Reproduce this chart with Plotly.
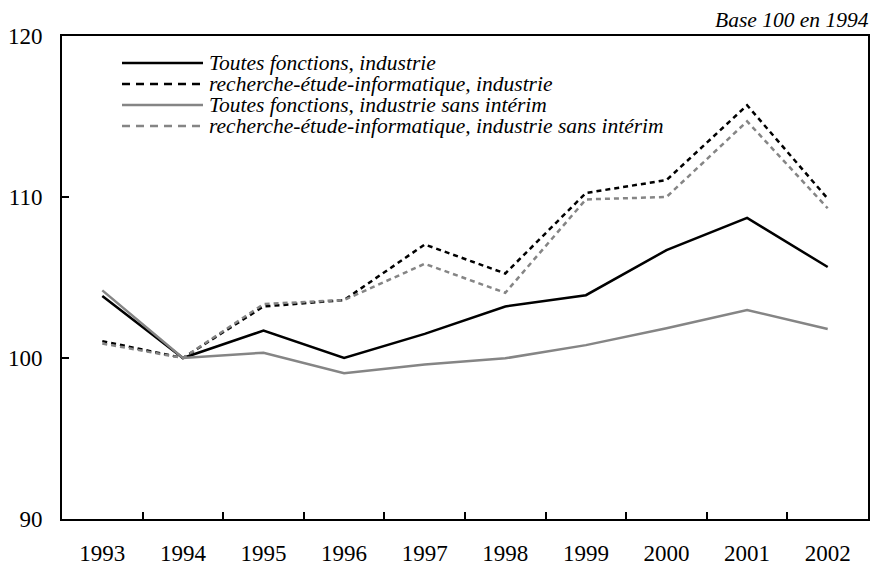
import plotly.graph_objects as go

years = ["1993", "1994", "1995", "1996", "1997", "1998", "1999", "2000", "2001", "2002"]
toutes_ind = [103.85, 100.0, 101.7, 100.0, 101.5, 103.2, 103.9, 106.7, 108.7, 105.65]
rei_ind = [101.05, 100.0, 103.2, 103.6, 107.05, 105.25, 110.25, 111.05, 115.7, 109.9]
toutes_ss = [104.2, 100.0, 100.33, 99.05, 99.6, 99.98, 100.8, 101.85, 102.98, 101.8]
rei_ss = [100.9, 100.0, 103.35, 103.6, 105.85, 104.05, 109.85, 110.0, 114.7, 109.3]

names = [
    "Toutes fonctions, industrie",
    "recherche-étude-informatique, industrie",
    "Toutes fonctions, industrie sans intérim",
    "recherche-étude-informatique, industrie sans intérim",
]
series = [toutes_ind, rei_ind, toutes_ss, rei_ss]
colors = ["#000000", "#000000", "#858585", "#858585"]
dashes = ["solid", "5px,4px", "solid", "5px,4px"]
legend_dashes = ["solid", "8px,6px", "solid", "8px,6px"]

FONT = "Liberation Serif"

fig = go.Figure()
for name, vals, c, d in zip(names, series, colors, dashes):
    fig.add_trace(go.Scatter(x=years, y=vals, mode="lines", name=name,
                             line=dict(color=c, width=2.5, dash=d),
                             showlegend=False))

# manual legend (longer line samples, as in the reference)
W, H = 806, 483
x0 = (122 - 62) / W
x1 = (203 - 62) / W
xt = (207 - 62) / W
rows = [63, 84, 105, 126]
for name, c, d, yy in zip(names, colors, legend_dashes, rows):
    yp = 1 - (yy - 36) / H
    fig.add_shape(type="line", xref="paper", yref="paper", x0=x0, x1=x1, y0=yp, y1=yp,
                  line=dict(color=c, width=2.5, dash=d))
    fig.add_annotation(xref="paper", yref="paper", x=xt, y=yp, text=name,
                       showarrow=False, xanchor="left", yanchor="middle",
                       font=dict(family=FONT, size=21.5, color="#000000",
                                 style="italic"))

fig.add_annotation(xref="paper", yref="paper", x=1.0, y=1.0, yshift=2, xshift=3,
                   text="Base 100 en 1994", showarrow=False,
                   xanchor="right", yanchor="bottom",
                   font=dict(family=FONT, size=21.5, color="#000000", style="italic"))

fig.update_xaxes(type="category", range=[-0.5, 9.5], tickson="boundaries",
                 ticks="inside", ticklen=7, tickwidth=1.5, tickcolor="#000",
                 showline=True, linecolor="#000", linewidth=2, mirror=True,
                 showgrid=False, zeroline=False, ticklabelstandoff=12,
                 automargin=False,
                 tickfont=dict(family=FONT, size=23, color="#000"))
fig.update_yaxes(range=[90, 120], dtick=10, ticks="inside", ticklen=7,
                 tickwidth=1.5, tickcolor="#000",
                 showline=True, linecolor="#000", linewidth=2, mirror=True,
                 showgrid=False, zeroline=False, ticklabelstandoff=13,
                 automargin=False,
                 tickfont=dict(family=FONT, size=23, color="#000"))

fig.update_layout(width=875, height=566, margin=dict(l=62, r=7, t=36, b=47),
                  plot_bgcolor="white", paper_bgcolor="white",
                  font=dict(family=FONT, color="#000"))

fig.write_html("out.html",
               config={"displayModeBar": False},
               post_script="document.body.style.margin='0';"
                           "document.body.style.overflow='hidden';")
